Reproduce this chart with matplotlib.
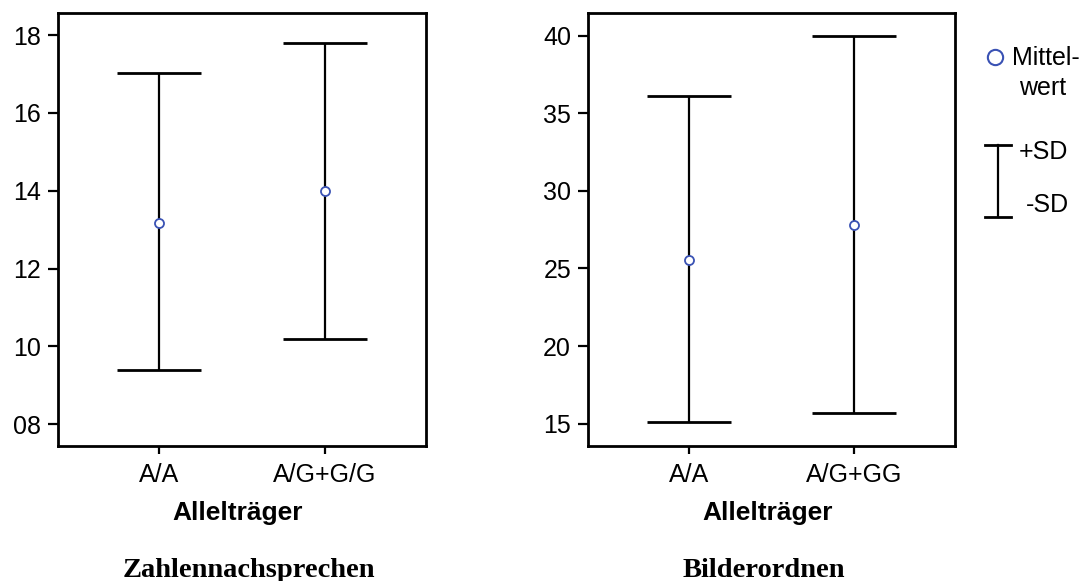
import numpy as np
import matplotlib.pyplot as plt
from matplotlib.ticker import FormatStrFormatter

plt.rcParams['font.family'] = ['Liberation Sans', 'DejaVu Sans']

# data (mean, +SD, -SD)
groups_left = ['A/A', 'A/G+G/G']
mean_left = [13.18, 13.99]
upper_left = [17.02, 17.80]
lower_left = [9.40, 10.20]

groups_right = ['A/A', 'A/G+GG']
mean_right = [25.57, 27.80]
upper_right = [36.14, 40.00]
lower_right = [15.09, 15.71]

yticks_left = [8, 10, 12, 14, 16, 18]
yticks_right = [15, 20, 25, 30, 35, 40]

blue = '#3a52b4'
W, H = 1087, 581

fig = plt.figure(figsize=(W/100, H/100), dpi=100)


def panel(rect, groups, mean, upper, lower, yticks, ylim, fmt):
    ax = fig.add_axes(rect)
    x = np.arange(len(groups))
    mean = np.array(mean)
    err = [mean - np.array(lower), np.array(upper) - mean]
    ax.errorbar(x, mean, yerr=err, fmt='none', ecolor='black', elinewidth=1.6,
                capsize=30, capthick=2.0)
    ax.plot(x, mean, 'o', mfc='white', mec=blue, ms=6.5, mew=1.3, zorder=3)
    ax.set_xlim(-0.615, 1.615)
    ax.set_ylim(*ylim)
    ax.set_xticks(x)
    ax.set_xticklabels(groups)
    ax.set_yticks(yticks)
    ax.yaxis.set_major_formatter(FormatStrFormatter(fmt))
    ax.tick_params(axis='both', labelsize=18, width=1.6, color='black')
    ax.tick_params(axis='y', length=7, pad=5)
    ax.tick_params(axis='x', length=6, pad=6)
    for s in ax.spines.values():
        s.set_linewidth(2.0)
        s.set_color('black')
    return ax


panel([57.5/W, 135/H, 368.8/W, 432.7/H], groups_left, mean_left, upper_left,
      lower_left, yticks_left, (7.44, 18.56), '%02d')
panel([587.7/W, 135/H, 367.3/W, 432.7/H], groups_right, mean_right, upper_right,
      lower_right, yticks_right, (13.56, 41.44), '%d')

# axis labels and titles
for xc in [238, 768]:
    fig.text(xc/W, 1 - 520/H, 'Allelträger', ha='center', va='baseline',
             fontsize=19, fontweight='bold')
fig.text(249/W, 1 - 577/H, 'Zahlennachsprechen', ha='center', va='baseline',
         fontsize=20.5, fontweight='bold', family='Liberation Serif')
fig.text(764/W, 1 - 577/H, 'Bilderordnen', ha='center', va='baseline',
         fontsize=20.5, fontweight='bold', family='Liberation Serif')

# legend drawn by hand in pixel space
lg = fig.add_axes([0, 0, 1, 1])
lg.set_xlim(0, W)
lg.set_ylim(H, 0)
lg.axis('off')
lg.plot([995], [57], 'o', mfc='white', mec=blue, ms=11, mew=1.5)
lg.text(1046, 65, 'Mittel-', ha='center', va='baseline', fontsize=18)
lg.text(1043, 95, 'wert', ha='center', va='baseline', fontsize=18)
lg.plot([998, 998], [145, 217], color='black', lw=1.6)
lg.plot([985, 1011], [145, 145], color='black', lw=2.0)
lg.plot([985, 1011], [217, 217], color='black', lw=2.0)
lg.text(1019, 152, '+SD', ha='left', va='center', fontsize=18)
lg.text(1026, 205, '-SD', ha='left', va='center', fontsize=18)

fig.savefig('out.png', dpi=100)
